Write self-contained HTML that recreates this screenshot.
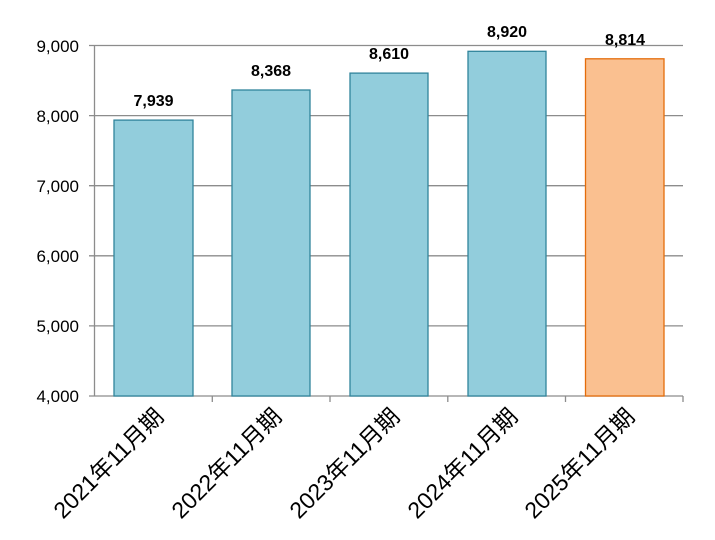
<!DOCTYPE html>
<html><head><meta charset="utf-8"><style>body{margin:0;background:#fff}</style></head><body>
<svg width="715" height="535" xmlns="http://www.w3.org/2000/svg" font-family="'Liberation Sans','Noto Sans CJK JP',sans-serif">
<g stroke="#8c8c8c" stroke-width="1.3">
<line x1="89" y1="45.5" x2="683" y2="45.5"/>
<line x1="89" y1="115.6" x2="683" y2="115.6"/>
<line x1="89" y1="185.7" x2="683" y2="185.7"/>
<line x1="89" y1="255.8" x2="683" y2="255.8"/>
<line x1="89" y1="325.9" x2="683" y2="325.9"/>
<line x1="89" y1="396" x2="683" y2="396"/>
<line x1="94.5" y1="45.5" x2="94.5" y2="396"/>
<line x1="212.3" y1="396" x2="212.3" y2="402"/>
<line x1="330" y1="396" x2="330" y2="402"/>
<line x1="447.8" y1="396" x2="447.8" y2="402"/>
<line x1="565.5" y1="396" x2="565.5" y2="402"/>
<line x1="683" y1="396" x2="683" y2="402"/>
</g>
<g fill="#92cddc" stroke="#31849b" stroke-width="1.3">
<rect x="114" y="120.1" width="79" height="275.9"/>
<rect x="232" y="90.0" width="78" height="306"/>
<rect x="350" y="73.1" width="78" height="322.9"/>
<rect x="468" y="51.3" width="78" height="344.7"/>
</g>
<rect x="585.5" y="58.8" width="78.5" height="337.2" fill="#fac090" stroke="#e46c0a" stroke-width="1.3"/>
<g font-size="17" text-anchor="end" fill="#000">
<text x="79" y="52">9,000</text>
<text x="79" y="122">8,000</text>
<text x="79" y="192">7,000</text>
<text x="79" y="262">6,000</text>
<text x="79" y="332">5,000</text>
<text x="79" y="402">4,000</text>
</g>
<g font-size="16" font-weight="bold" text-anchor="middle">
<text x="153.5" y="106">7,939</text>
<text x="271" y="76">8,368</text>
<text x="389" y="59">8,610</text>
<text x="507" y="37">8,920</text>
<text x="625" y="45">8,814</text>
</g>
<g font-size="23" text-anchor="end">
<text transform="translate(165,418) rotate(-45)">2021年11月期</text>
<text transform="translate(283,418) rotate(-45)">2022年11月期</text>
<text transform="translate(401,418) rotate(-45)">2023年11月期</text>
<text transform="translate(519,418) rotate(-45)">2024年11月期</text>
<text transform="translate(636,418) rotate(-45)">2025年11月期</text>
</g>
</svg>
</body></html>
